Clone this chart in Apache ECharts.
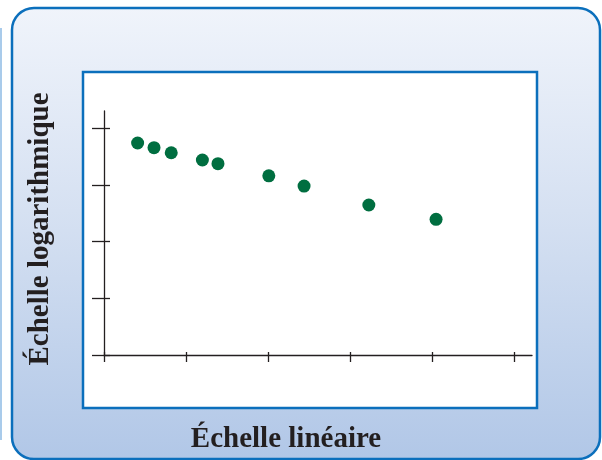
<!DOCTYPE html>
<html>
<head>
<meta charset="utf-8">
<script src="https://cdn.jsdelivr.net/npm/echarts@6/dist/echarts.min.js"></script>
<style>
  html, body { margin: 0; padding: 0; background: #ffffff; }
  #chart { width: 602px; height: 460px; }
</style>
</head>
<body>
<div id="chart"></div>
<script>
// Measurements: position on the linear scale vs. value on the log scale
const xValues = [0.41, 0.61, 0.82, 1.2, 1.39, 2.01, 2.44, 3.23, 4.05];
const yValues = [5450, 4500, 3670, 2730, 2350, 1440, 950, 440, 246];

// Tick positions (no labels are printed)
const xTicks = [0, 1, 2, 3, 4, 5];
const yTicks = [1, 10, 100, 1000, 10000];

const xTitle = 'Échelle linéaire';
const yTitle = 'Échelle logarithmique';

const X_MAX = 5.22;
const Y_MIN = 1;
const Y_MAX = Math.pow(10, 4.3);

const BLUE = '#0b6fbc';
const INK = '#231f20';
const DOT = '#006e40';
const titleFont = '"Liberation Serif", "Times New Roman", serif';

const points = xValues.map((x, i) => [x, yValues[i]]);

const chart = echarts.init(document.getElementById('chart'), null, { renderer: 'canvas' });

function xAxisDef(inside, len, showLine) {
  return {
    type: 'value', min: 0, max: X_MAX, position: 'bottom',
    axisLine: { show: showLine, onZero: false, lineStyle: { color: INK, width: 1.3 } },
    axisTick: { show: true, inside: inside, length: len, customValues: xTicks,
                lineStyle: { color: INK, width: 1.3 } },
    axisLabel: { show: false },
    splitLine: { show: false }
  };
}
function yAxisDef(inside, len, showLine) {
  return {
    type: 'log', logBase: 10, min: Y_MIN, max: Y_MAX, position: 'left', offset: 0,
    axisLine: { show: showLine, onZero: false, lineStyle: { color: INK, width: 1.3 } },
    axisTick: { show: true, inside: inside, length: len, customValues: yTicks,
                lineStyle: { color: INK, width: 1.3 } },
    axisLabel: { show: false },
    splitLine: { show: false }
  };
}

chart.setOption({
  animation: false,
  backgroundColor: '#ffffff',
  grid: { left: 104, top: 111, right: 70, bottom: 105, containLabel: false },
  xAxis: [xAxisDef(false, 7, true), xAxisDef(true, 3, false)],
  yAxis: [yAxisDef(false, 12, true), yAxisDef(true, 6, false)],
  graphic: [
    {
      type: 'line', z: -20, silent: true,
      shape: { x1: 1, y1: 28, x2: 1, y2: 440 },
      style: { stroke: '#a9cbeb', lineWidth: 2 }
    },
    {
      type: 'rect', z: -10, silent: true,
      shape: { x: 12, y: 8, width: 588, height: 451, r: 22 },
      style: {
        fill: new echarts.graphic.LinearGradient(0, 0, 0, 1, [
          { offset: 0, color: '#f0f4fb' },
          { offset: 0.45, color: '#d6e1f2' },
          { offset: 1, color: '#b1c7e7' }
        ]),
        stroke: BLUE, lineWidth: 2.5
      }
    },
    {
      type: 'rect', z: -5, silent: true,
      shape: { x: 83, y: 72, width: 454, height: 336 },
      style: { fill: '#ffffff', stroke: BLUE, lineWidth: 2.5 }
    },
    {
      type: 'text', z: 10, silent: true,
      x: 286, y: 440,
      style: {
        text: xTitle, fill: INK, align: 'center', verticalAlign: 'middle',
        font: 'bold 29px ' + titleFont
      }
    },
    {
      type: 'text', z: 10, silent: true,
      x: 41, y: 229, rotation: Math.PI / 2,
      style: {
        text: yTitle, fill: INK, align: 'center', verticalAlign: 'middle',
        font: 'bold 29px ' + titleFont
      }
    }
  ],
  series: [{
    type: 'scatter',
    xAxisIndex: 0,
    yAxisIndex: 0,
    symbol: 'circle',
    symbolSize: 13,
    itemStyle: { color: DOT, opacity: 1 },
    data: points
  }]
});
</script>
</body>
</html>
